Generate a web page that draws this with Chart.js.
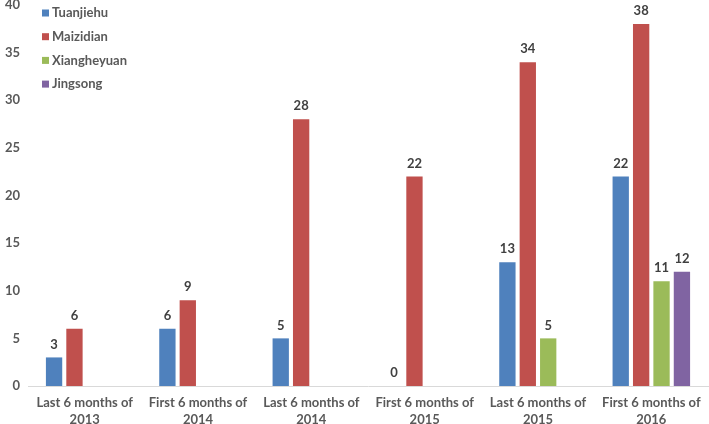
<!DOCTYPE html>
<html><head><meta charset="utf-8">
<script src="https://cdn.jsdelivr.net/npm/chart.js@4/dist/chart.umd.min.js"></script>
<style>html,body{margin:0;padding:0;background:#fff}#wrap{width:709px;height:424px}</style>
</head><body><div id="wrap"><canvas id="c" width="709" height="424"></canvas></div>
<script>
const categories = [
  ['Last 6 months of','2013'],
  ['First 6 months of','2014'],
  ['Last 6 months of','2014'],
  ['First 6 months of','2015'],
  ['Last 6 months of','2015'],
  ['First 6 months of','2016']
];
const seriesNames = ['Tuanjiehu','Maizidian','Xiangheyuan','Jingsong'];
const tuanjiehu   = [3, 6, 5, 0, 13, 22];
const maizidian   = [6, 9, 28, 22, 34, 38];
const xiangheyuan = [null, null, null, null, 5, 11];
const jingsong    = [null, null, null, null, null, 12];
const yTicks = [0,5,10,15,20,25,30,35,40];

const colors = ['#4F81BD','#C0504D','#9BBB59','#8064A2'];
const FONT = 'Lato';

const labelPlugin = {
  id:'vals',
  afterDatasetsDraw(chart){
    const ctx = chart.ctx;
    ctx.save();
    ctx.font = 'bold 13px ' + FONT;
    ctx.fillStyle = '#404040';
    ctx.textAlign = 'center';
    ctx.textBaseline = 'middle';
    chart.data.datasets.forEach((ds, i) => {
      const meta = chart.getDatasetMeta(i);
      meta.data.forEach((bar, j) => {
        const v = ds.data[j];
        if (v === null || v === undefined) return;
        ctx.fillText(String(v), bar.x, bar.y - 13);
      });
    });
    ctx.restore();
  }
};
const legendPlugin = {
  id:'leg',
  afterDraw(chart){
    const ctx = chart.ctx;
    ctx.save();
    ctx.font = 'bold 13px ' + FONT;
    ctx.textBaseline = 'middle';
    ctx.textAlign = 'left';
    chart.data.datasets.forEach((ds, i) => {
      const y = 13 + i * 23.7;
      ctx.fillStyle = ds.backgroundColor;
      ctx.fillRect(42, y - 3.5, 7, 7);
      ctx.fillStyle = '#595959';
      ctx.fillText(ds.label, 52, y);
    });
    ctx.restore();
  }
};

const allSeries = [tuanjiehu, maizidian, xiangheyuan, jingsong];
new Chart(document.getElementById('c'), {
  type:'bar',
  data:{
    labels: categories,
    datasets: allSeries.map((d,i)=>({label:seriesNames[i], data:d, backgroundColor:colors[i],
      categoryPercentage:0.72, barPercentage:0.8}))
  },
  options:{
    responsive:false, animation:false,
    layout:{padding:{top:5,right:1,left:0,bottom:0}},
    plugins:{legend:{display:false}, tooltip:{enabled:false}},
    scales:{
      x:{
        grid:{display:false, drawTicks:false},
        border:{display:true, color:'#D9D9D9', width:1},
        ticks:{color:'#595959', font:{family:FONT, size:13, weight:'bold', lineHeight:1.3}, maxRotation:0, padding:8},
        afterFit(s){ s.height = 38; s.paddingLeft = 0; s.paddingRight = 0; }
      },
      y:{
        min:0, max:40,
        afterBuildTicks(s){ s.ticks = yTicks.map(v=>({value:v})); },
        grid:{display:false, drawTicks:false},
        border:{display:false},
        ticks:{color:'#595959', font:{family:FONT, size:13, weight:'bold'}, padding:8},
        afterFit(s){ s.width = 28; s.paddingTop = 0; s.paddingBottom = 0; }
      }
    }
  },
  plugins:[labelPlugin, legendPlugin]
});
</script></body></html>
